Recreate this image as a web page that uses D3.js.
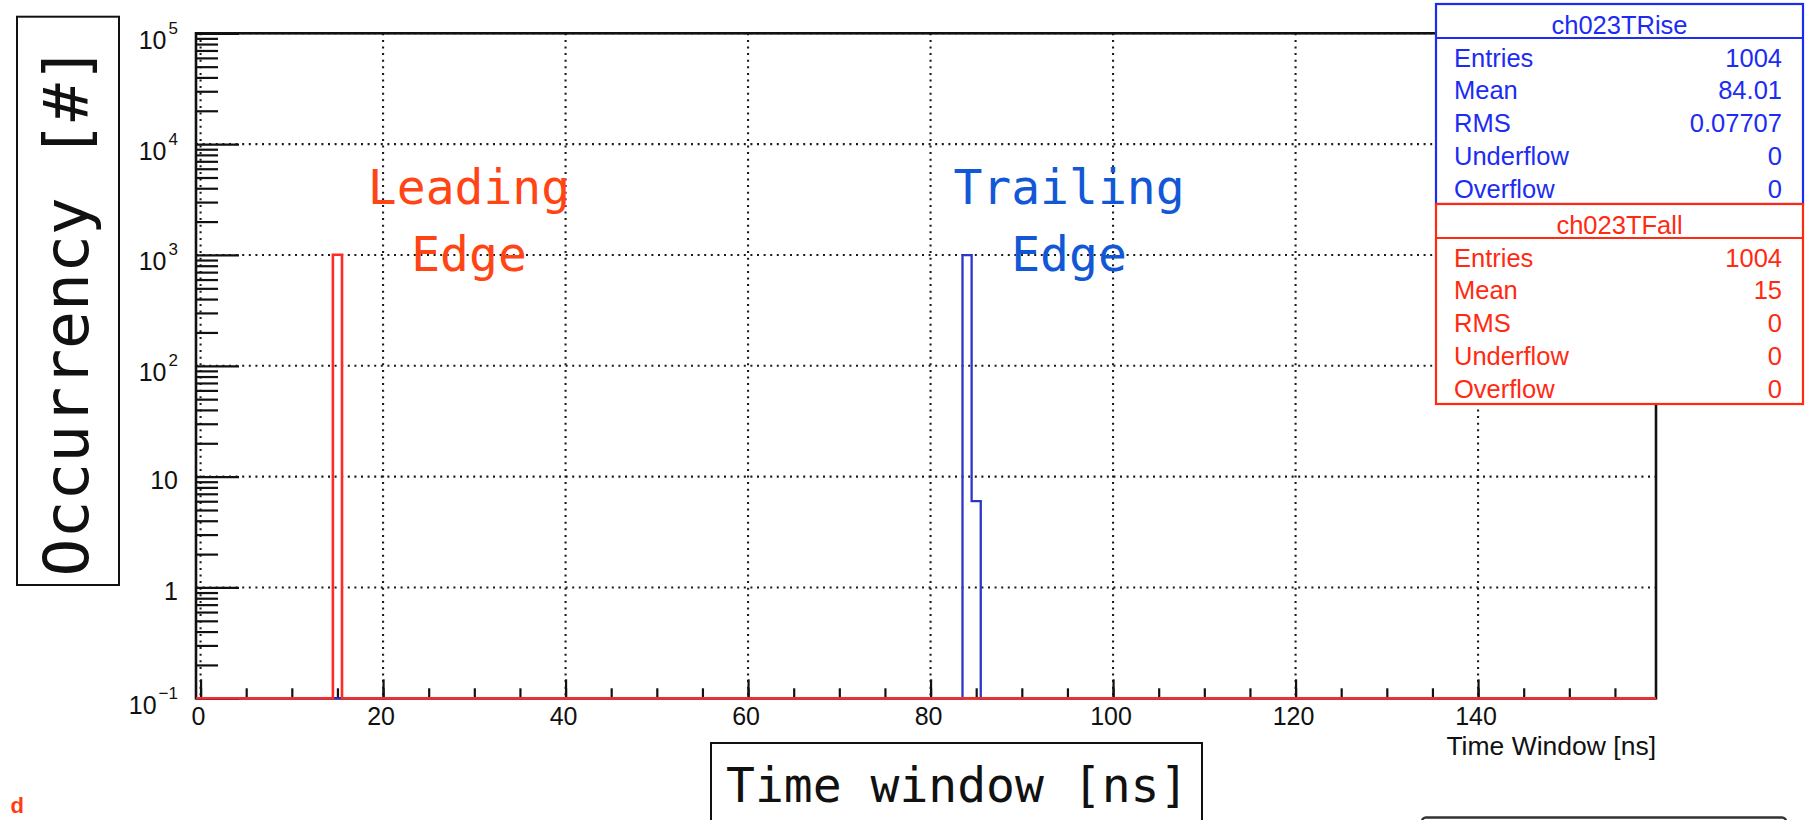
<!DOCTYPE html>
<html>
<head>
<meta charset="utf-8">
<script src="https://cdn.jsdelivr.net/npm/d3@7"></script>
<style>
  html, body { margin: 0; padding: 0; background: #fff; }
  svg { display: block; }
</style>
</head>
<body>
<svg id="chart" width="1807" height="820"></svg>
<script>
// ---- histogram data (1 ns bins, centred on integer times) ----
const binLow = -0.5;
const binHigh = 159.5;
const riseTimes = [84, 85];          // ch023TRise filled bins
const riseCounts = [998, 6];
const fallTimes = [15];              // ch023TFall filled bins
const fallCounts = [1004];

// ---- axis ticks ----
const xMajorTicks = [0, 20, 40, 60, 80, 100, 120, 140];
const xMinorTicks = d3.range(0, 160, 5);
const yMajorTicks = [0.1, 1, 10, 100, 1000, 10000, 100000];

// ---- statistics boxes ----
const statNames = ["Entries", "Mean", "RMS", "Underflow", "Overflow"];
const riseStats = ["1004", "84.01", "0.07707", "0", "0"];
const fallStats = ["1004", "15", "0", "0", "0"];

const svg = d3.select("#chart");
const frame = { left: 196, right: 1656, top: 33.3, bottom: 698.3 };

const x = d3.scaleLinear().domain([binLow, binHigh]).range([frame.left, frame.right]);
const y = d3.scaleLog().domain([0.1, 1e5]).range([frame.bottom, frame.top]);

const sansFont = "'Liberation Sans', Arial, Helvetica, sans-serif";
const monoFont = "'DejaVu Sans Mono', monospace";

svg.append("rect").attr("width", 1807).attr("height", 820).attr("fill", "#fff");

// ---- dotted grid ----
const grid = svg.append("g")
  .attr("stroke", "#1a1a1a").attr("stroke-width", 2.1).attr("stroke-dasharray", "2,4.6");
grid.selectAll("line.gy").data(yMajorTicks.slice(1)).join("line")
  .attr("x1", frame.left).attr("x2", frame.right)
  .attr("y1", d => y(d)).attr("y2", d => y(d));
grid.selectAll("line.gx").data(xMajorTicks).join("line")
  .attr("x1", d => x(d)).attr("x2", d => x(d))
  .attr("y1", frame.top).attr("y2", frame.bottom);

// ---- x axis: ticks pointing into the frame ----
const xMinorAxis = d3.axisBottom(x).tickValues(xMinorTicks).tickSize(-10).tickFormat("");
const xMajorAxis = d3.axisBottom(x).tickValues(xMajorTicks).tickSize(-19).tickPadding(9)
  .tickFormat(d3.format("d"));
const gxMinor = svg.append("g").attr("transform", `translate(0,${frame.bottom})`).call(xMinorAxis);
const gxMajor = svg.append("g").attr("transform", `translate(0,${frame.bottom})`).call(xMajorAxis);
[gxMinor, gxMajor].forEach(g => {
  g.select(".domain").remove();
  g.selectAll(".tick line").attr("stroke", "#111").attr("stroke-width", 2.2);
});
gxMajor.selectAll(".tick text")
  .attr("font-family", sansFont).attr("font-size", 25).attr("fill", "#111")
  .attr("dx", -2.5);

// ---- y axis: logarithmic ticks pointing into the frame ----
const yMinorValues = [];
yMajorTicks.slice(0, -1).forEach(dec => {
  for (let k = 2; k <= 9; k++) yMinorValues.push(dec * k);
});
const yMinorAxis = d3.axisLeft(y).tickValues(yMinorValues).tickSize(-22).tickFormat("");
const yMajorAxis = d3.axisLeft(y).tickValues(yMajorTicks).tickSize(-43).tickPadding(18)
  .tickFormat("");
const gyMinor = svg.append("g").attr("transform", `translate(${frame.left},0)`).call(yMinorAxis);
const gyMajor = svg.append("g").attr("transform", `translate(${frame.left},0)`).call(yMajorAxis);
[gyMinor, gyMajor].forEach(g => {
  g.select(".domain").remove();
  g.selectAll(".tick line").attr("stroke", "#111").attr("stroke-width", 2.2);
});
// labels: plain for 1 and 10, power notation otherwise
gyMajor.selectAll(".tick text").each(function(d) {
  const t = d3.select(this).text("")
    .attr("font-family", sansFont).attr("font-size", 25).attr("fill", "#111")
    .attr("x", -18).attr("dy", null);
  const e = Math.round(Math.log10(d));
  if (e === 0 || e === 1) {
    t.attr("y", 12).text(String(d));
  } else {
    t.attr("y", 15);
    t.append("tspan").text("10");
    t.append("tspan").attr("dx", 2).attr("dy", -15).attr("font-size", 17)
      .text(e < 0 ? "\u2212" + String(-e) : String(e));
  }
});

// ---- frame ----
svg.append("rect")
  .attr("x", frame.left).attr("y", frame.top)
  .attr("width", frame.right - frame.left).attr("height", frame.bottom - frame.top)
  .attr("fill", "none").attr("stroke", "#111").attr("stroke-width", 2.6);

// ---- histograms as ROOT-style step outlines ----
function histPoints(times, counts) {
  const nb = Math.round(binHigh - binLow);
  const vals = new Array(nb).fill(0);
  times.forEach((t, i) => { vals[Math.round(t - binLow - 0.5)] = counts[i]; });
  const pts = vals.map((v, i) => [binLow + i, Math.max(v, 0.1)]);
  pts.push([binHigh, 0.1]);
  return pts;
}
const stepLine = d3.line()
  .x(d => x(d[0])).y(d => y(d[1]))
  .curve(d3.curveStepAfter);

svg.append("path").datum(histPoints(riseTimes, riseCounts))
  .attr("d", stepLine).attr("fill", "none")
  .attr("stroke", "#2e36c8").attr("stroke-width", 2.3);
svg.append("path").datum(histPoints(fallTimes, fallCounts))
  .attr("d", stepLine).attr("fill", "none")
  .attr("stroke", "#ff2a22").attr("stroke-width", 2.6);

// ---- annotations ----
function twoLine(cx, lines, color) {
  const t = svg.append("text").attr("font-family", monoFont).attr("font-size", 48)
    .attr("fill", color).attr("text-anchor", "middle");
  lines.forEach((s, i) => t.append("tspan").attr("x", cx).attr("y", 203.6 + i * 67.8).text(s));
}
twoLine(469, ["Leading", "Edge"], "#ff4515");
twoLine(1069, ["Trailing", "Edge"], "#1258d6");

// ---- statistics panels ----
function statsPanel(top, bottom, title, values, color) {
  const g = svg.append("g");
  g.append("rect").attr("x", 1436).attr("y", top).attr("width", 367).attr("height", bottom - top)
    .attr("fill", "#fff").attr("stroke", color).attr("stroke-width", 2.2);
  g.append("line").attr("x1", 1436).attr("x2", 1803).attr("y1", top + 34).attr("y2", top + 34)
    .attr("stroke", color).attr("stroke-width", 2.2);
  g.append("text").attr("x", 1619.5).attr("y", top + 29.5).attr("text-anchor", "middle")
    .attr("font-family", sansFont).attr("font-size", 25.5).attr("fill", color).text(title);
  statNames.forEach((n, i) => {
    const yy = top + 62.5 + i * 32.8;
    g.append("text").attr("x", 1454).attr("y", yy)
      .attr("font-family", sansFont).attr("font-size", 25.5).attr("fill", color).text(n);
    g.append("text").attr("x", 1782).attr("y", yy).attr("text-anchor", "end")
      .attr("font-family", sansFont).attr("font-size", 25.5).attr("fill", color).text(values[i]);
  });
}
statsPanel(4, 204, "ch023TRise", riseStats, "#1c2cf2");
statsPanel(204, 404, "ch023TFall", fallStats, "#ff2a12");

// ---- axis titles ----
svg.append("text").attr("x", 1656).attr("y", 755).attr("text-anchor", "end")
  .attr("font-family", sansFont).attr("font-size", 26.5).attr("fill", "#111")
  .text("Time Window [ns]");

svg.append("rect").attr("x", 17).attr("y", 16.7).attr("width", 102).attr("height", 568.3)
  .attr("fill", "#fff").attr("stroke", "#111").attr("stroke-width", 2);
svg.append("text")
  .attr("transform", "translate(88,311) rotate(-90)")
  .attr("text-anchor", "middle")
  .attr("font-family", monoFont).attr("font-size", 63).attr("fill", "#111")
  .text("Occurrency [#]");

svg.append("rect").attr("x", 711).attr("y", 743).attr("width", 491).attr("height", 120)
  .attr("fill", "#fff").attr("stroke", "#111").attr("stroke-width", 2);
svg.append("text").attr("x", 726).attr("y", 801.7)
  .attr("font-family", monoFont).attr("font-size", 48).attr("fill", "#111")
  .text("Time window [ns]");

// ---- page fragments at the lower edge ----
svg.append("text").attr("x", 24).attr("y", 813).attr("text-anchor", "end")
  .attr("font-family", sansFont).attr("font-weight", "bold").attr("font-size", 22)
  .attr("fill", "#ff3c12").text("d");
svg.append("rect").attr("x", 1422).attr("y", 817.5).attr("width", 364).attr("height", 30)
  .attr("rx", 4).attr("fill", "none").attr("stroke", "#333").attr("stroke-width", 2.5);
</script>
</body>
</html>
